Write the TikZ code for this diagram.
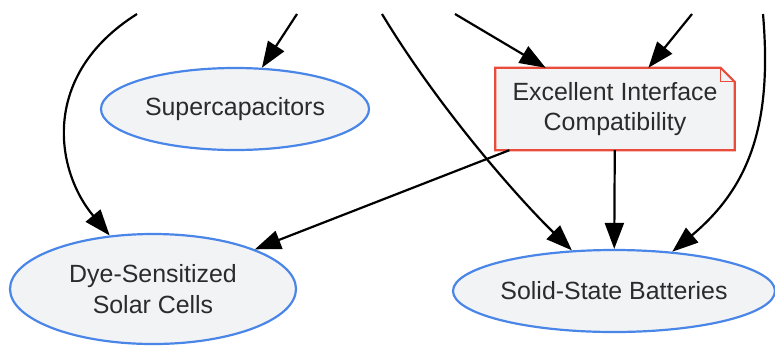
\documentclass[tikz,border=0pt]{standalone}
\usepackage{fontspec}
\setmainfont{Liberation Sans}
\usepackage{xcolor}
\usepackage{tikz}
\usetikzlibrary{shapes.geometric, arrows.meta, calc, backgrounds}

\definecolor{nodefill}{HTML}{F2F3F5}
\definecolor{nodeblue}{HTML}{4A86E8}
\definecolor{notered}{HTML}{EA4C3C}
\definecolor{textgray}{HTML}{2B2B2B}

\begin{document}
\begin{tikzpicture}[x=1bp, y=-1bp,
    app/.style={ellipse, draw=nodeblue, fill=nodefill, line width=2.2bp,
        inner sep=0pt, text=textgray, align=center,
        font=\fontsize{25}{30.5}\selectfont},
    notebox/.style={rectangle, inner sep=0pt, minimum width=239bp,
        minimum height=82bp, text=textgray, align=center,
        font=\fontsize{25}{29.5}\selectfont},
    link/.style={line width=2.2bp, -{Triangle[length=26bp, width=19bp]}}
]

    \useasboundingbox (0,0) rectangle (775,345);

    % -------------------------
    % Nodes
    % -------------------------
    \node[app, minimum width=268bp, minimum height=82bp] (sup) at (235,109) {Supercapacitors};
    \node[notebox] (compat) at (615,109) {Excellent Interface\\Compatibility};
    \node[app, minimum width=286bp, minimum height=110bp] (dye) at (153,289) {Dye-Sensitized\\Solar Cells};
    \node[app, minimum width=322bp, minimum height=82bp] (solid) at (614,291) {Solid-State Batteries};

    % note outline with folded corner
    \begin{scope}[on background layer]
        \filldraw[fill=nodefill, draw=notered, line width=2.2bp]
            (compat.south west) -- (compat.north west)
            -- ($(compat.north east)+(-14,0)$) -- ($(compat.north east)+(0,14)$)
            -- (compat.south east) -- cycle;
        \draw[notered, line width=1bp]
            ($(compat.north east)+(-14,0)$) |- ($(compat.north east)+(0,14)$);
    \end{scope}

    % -------------------------
    % Incoming edges (sources above the picture)
    % -------------------------
    \coordinate (from1) at (137,14);
    \coordinate (from2) at (297,14);
    \coordinate (from3) at (382,14);
    \coordinate (from4) at (455,14);
    \coordinate (from5) at (692,14);
    \coordinate (from6) at (763,14);

    \draw[link] (from1) .. controls (40,75) and (55,170) .. (dye.129);
    \draw[link] (from2) -- (sup);
    \draw[link] (from3) .. controls (440,110) and (520,200) .. (solid.136);
    \draw[link] (from4) -- (compat);
    \draw[link] (from5) -- (compat);
    \draw[link] (from6) .. controls (772,120) and (752,185) .. (solid.34);

    % -------------------------
    % Edges from the note
    % -------------------------
    \draw[link] (compat) -- (dye);
    \draw[link] (compat) -- (solid);

\end{tikzpicture}
\end{document}
